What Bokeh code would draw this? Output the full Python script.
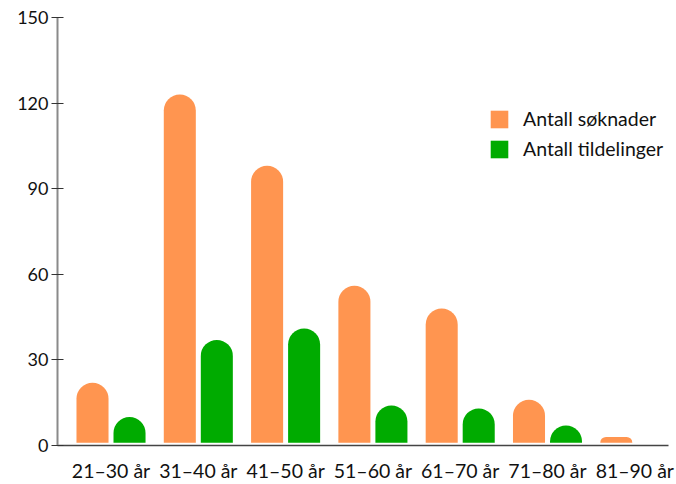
from bokeh.plotting import figure
from bokeh.models import ColumnDataSource, FixedTicker, Range1d, Legend, LegendItem
from bokeh.transform import dodge
from bokeh.embed import file_html
from bokeh.resources import INLINE

categories = ["21–30 år", "31–40 år", "41–50 år", "51–60 år", "61–70 år", "71–80 år", "81–90 år"]
soknader = [22, 123, 98, 56, 48, 16, 3]
tildelinger = [10, 37, 41, 14, 13, 7, 0]
y_ticks = [0, 30, 60, 90, 120, 150]
series_names = ["Antall søknader", "Antall tildelinger"]

FONT = "Lato"
ORANGE = "#FF9550"
GREEN = "#00AB00"
TEXT = "#111111"

xs = list(range(len(categories)))
src = ColumnDataSource(dict(
    x=xs, s=soknader, t=tildelinger,
    sb=[min(1.0, v) for v in soknader],
    tb=[min(1.0, v) for v in tildelinger],
))

p = figure(width=676, height=484, output_backend="svg", toolbar_location=None,
           x_range=Range1d(-0.613, 6.386), y_range=Range1d(0, 150),
           min_border_left=57, min_border_right=8, min_border_top=17, min_border_bottom=38)
p.outline_line_color = None
p.grid.grid_line_color = None
p.background_fill_color = "white"
p.border_fill_color = "white"

r1 = p.vbar(x=dodge("x", -0.212, range=p.x_range), top="s", bottom="sb", width=0.367,
            source=src, fill_color=ORANGE, line_color=None, border_radius=(16, 16, 0, 0))
r2 = p.vbar(x=dodge("x", 0.212, range=p.x_range), top="t", bottom="tb", width=0.367,
            source=src, fill_color=GREEN, line_color=None, border_radius=(16, 16, 0, 0))

# y axis
ya = p.yaxis[0]
ya.ticker = FixedTicker(ticks=y_ticks)
ya.axis_line_color = "#8a8a8a"
ya.axis_line_width = 2
ya.major_tick_line_color = "#333333"
ya.major_tick_line_width = 1.2
ya.major_tick_in = 6
ya.major_tick_out = 6
ya.minor_tick_line_color = None
ya.major_label_text_font = FONT
ya.major_label_text_font_size = "18px"
ya.major_label_text_color = TEXT
ya.major_label_standoff = 3

# x axis
xa = p.xaxis[0]
xa.ticker = FixedTicker(ticks=xs)
xa.major_label_overrides = {i: c for i, c in zip(xs, categories)}
xa.axis_line_color = "#444444"
xa.axis_line_width = 1.5
xa.major_tick_line_color = None
xa.minor_tick_line_color = None
xa.major_label_text_font = FONT
xa.major_label_text_font_size = "19.5px"
xa.major_label_text_color = TEXT
xa.major_label_standoff = 7

legend = Legend(items=[LegendItem(label=series_names[0], renderers=[r1]),
                       LegendItem(label=series_names[1], renderers=[r2])],
                location=(431, 285), orientation="vertical")
legend.glyph_width = 22
legend.glyph_height = 22
legend.label_standoff = 13
legend.spacing = 7
legend.padding = 0
legend.margin = 0
legend.border_line_color = None
legend.background_fill_alpha = 0
legend.label_text_font = FONT
legend.label_text_font_size = "19.5px"
legend.label_text_color = TEXT
p.add_layout(legend, "center")

open("out.html", "w").write(file_html(p, INLINE))
